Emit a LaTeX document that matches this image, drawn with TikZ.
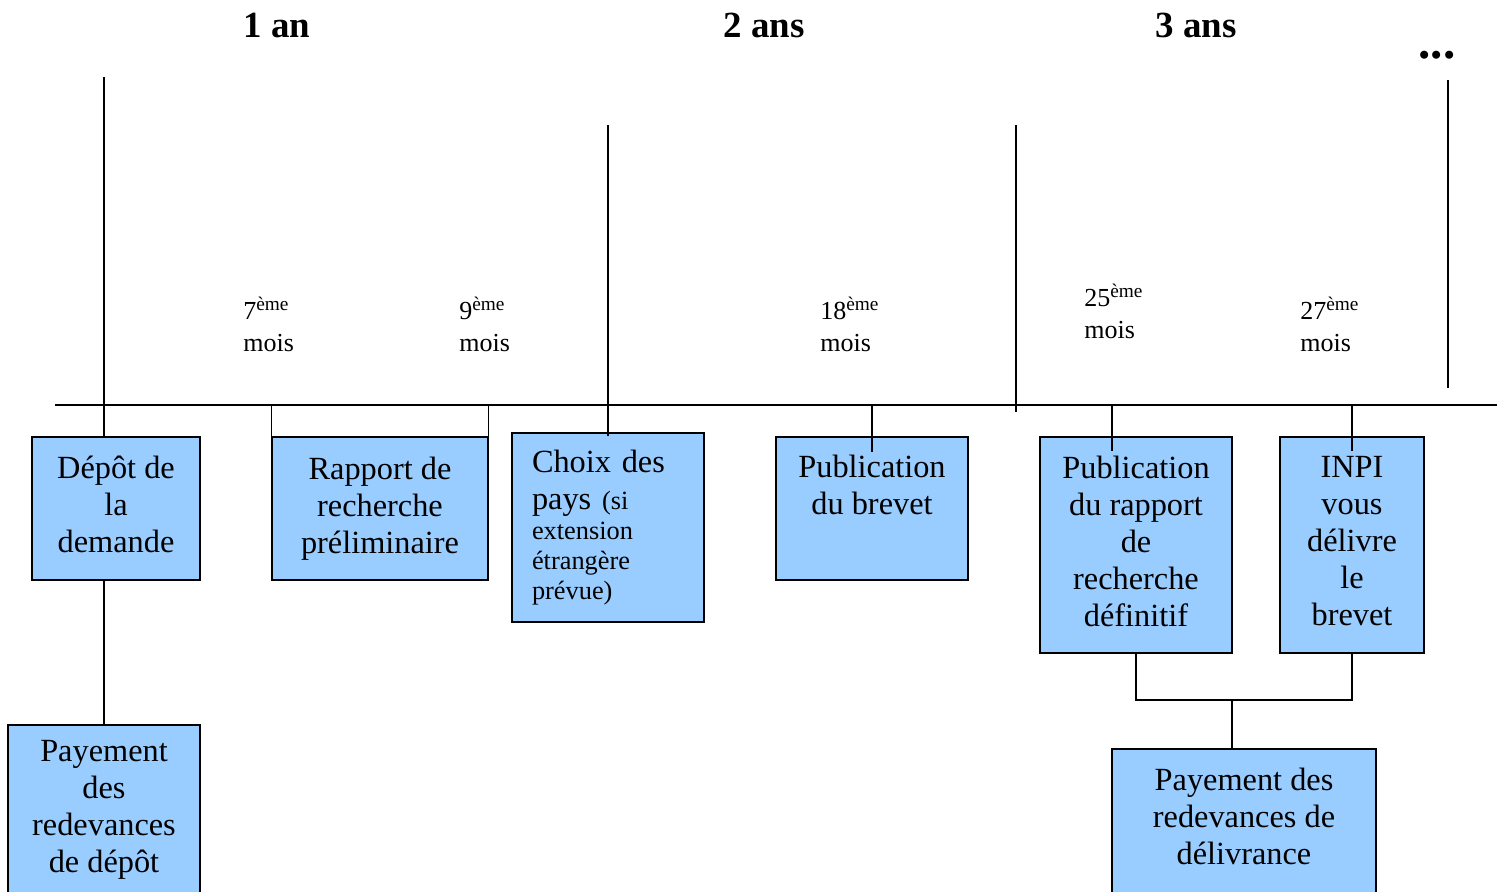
\documentclass[tikz,border=0pt]{standalone}
\usepackage{fontspec}
\setmainfont{Liberation Serif}
\usepackage{xcolor}
\definecolor{boxblue}{RGB}{153,204,255}
\setlength{\parindent}{0pt}
\newcommand{\eme}{\textsuperscript{\fontsize{11}{12}\selectfont ème}}
\newcommand{\smalltext}{\fontsize{15}{17}\selectfont}

\begin{document}
\begin{tikzpicture}[
x=0.02cm, y=-0.02cm,
        box/.style={rectangle, draw=black, line width=0.8pt, fill=boxblue, align=center, inner sep=0pt, font=\fontsize{18.4}{21}\selectfont},
        year/.style={anchor=base, inner sep=0pt, font=\bfseries\fontsize{21}{25}\selectfont},
        month/.style={anchor=north west, align=left, inner sep=0pt, font=\fontsize{14.8}{18.2}\selectfont},
        line/.style={line width=0.8pt}
      ]
\useasboundingbox (0,0) rectangle (1502,892);

\node[year] (an1) at (277,38) {1 an};
      \node[year] (an2) at (764,38) {2 ans};
      \node[year] (an3) at (1196,38) {3 ans};
      \node[year, font=\bfseries\fontsize{28}{30}\selectfont] (etc) at (1437,59) {...};

\coordinate (axisL) at (55,405);
      \coordinate (axisR) at (1497,405);
      \coordinate (t1) at (104,77);
      \coordinate (t2) at (608,125);
      \coordinate (t3) at (1016,125);
      \coordinate (t3end) at (1016,412);
      \coordinate (t4) at (1448,80);
      \coordinate (t4end) at (1448,388);
      \coordinate (join) at (1232,700);

\node[month] (m7) at (243,297) {7\eme\\mois};
      \node[month] (m9) at (459,297) {9\eme\\mois};
      \node[month] (m18) at (820,297) {18\eme\\mois};
      \node[month] (m25) at (1084,284) {25\eme\\mois};
      \node[month] (m27) at (1300,297) {27\eme\\mois};

\node[box, minimum width=3.36cm, minimum height=2.86cm, text depth=0.16cm] (depot) at (116,508.5) {Dépôt de\\la\\demande};
      \node[box, minimum width=4.32cm, minimum height=2.86cm] (rapport) at (380,508.5) {Rapport de\\recherche\\préliminaire};
      \node[box, align=left, text width=3.04cm, inner xsep=0.4cm, minimum height=3.78cm] (choix) at (608,527.5) {\mbox{Choix des}\par\mbox{pays {\smalltext (si}}\par{\smalltext extension\par étrangère\par prévue)\par}};
      \node[box, minimum width=3.84cm, minimum height=2.86cm] (pubbrevet) at (872,508.5) {Publication\\du brevet\\\strut};
      \node[box, minimum width=3.84cm, minimum height=4.32cm, text depth=0.16cm] (pubrapport) at (1136,545) {Publication\\du rapport\\de\\recherche\\définitif};
      \node[box, minimum width=2.88cm, minimum height=4.32cm, text depth=0.16cm] (inpi) at (1352,545) {INPI\\vous\\délivre\\le\\brevet};
      \node[box, minimum width=3.84cm, minimum height=3.4cm] (paydepot) at (104,810) {Payement\\des\\redevances\\de dépôt};
      \node[box, minimum width=5.28cm, minimum height=3cm, text depth=0.32cm] (paydeliv) at (1244,824) {Payement des\\redevances de\\délivrance};

% time axis and year marks
\draw[line] (axisL) -- (axisR);
      \draw[line] (t1) -- (t1 |- depot.north);
      \draw[line] (t2) -- ([yshift=-0.08cm]choix.north);
      \draw[line] (t3) -- (t3end);
      \draw[line] (t4) -- (t4end);

% boxes hanging from the axis
\draw[line] (rapport.north west |- axisL) -- (rapport.north west);
      \draw[line] (rapport.north east |- axisL) -- (rapport.north east);
      \draw[line] (pubbrevet.north |- axisL) -- ([yshift=-0.32cm]pubbrevet.north);
      \draw[line] ([xshift=-0.48cm]pubrapport.north |- axisL) -- ([xshift=-0.48cm, yshift=-0.3cm]pubrapport.north);
      \draw[line] (inpi.north |- axisL) -- ([yshift=-0.3cm]inpi.north);

% fees
\draw[line] (depot.south -| paydepot) -- (paydepot.north);
      \draw[line] (pubrapport.south) |- (join) -| (inpi.south);
      \draw[line] (join) -- (join |- paydeliv.north);

      \end{tikzpicture}
\end{document}
